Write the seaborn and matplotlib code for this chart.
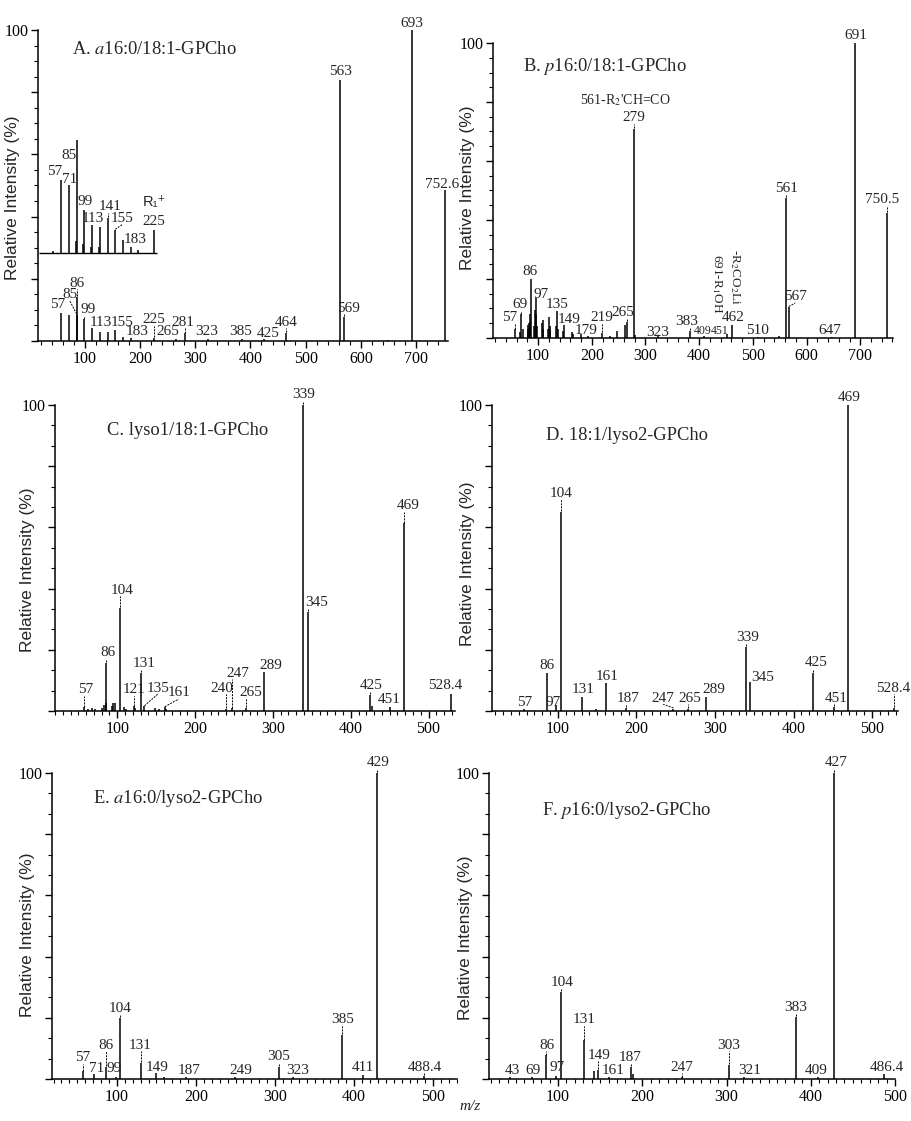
import numpy as np
import matplotlib
matplotlib.use("Agg")
import matplotlib.pyplot as plt
import seaborn as sns
from matplotlib.ticker import MultipleLocator, FixedLocator

sns.set_theme(style="ticks")
plt.rcParams['font.family'] = ['Liberation Serif', 'DejaVu Serif']
plt.rcParams['mathtext.fontset'] = 'stix'

# ---- spectra (m/z, relative intensity %) ----
a_mz = [57, 71, 85, 86, 99, 113, 127, 141, 155, 169, 183, 225, 265, 281, 323, 385, 425, 464,
        563, 569, 650, 693, 752.6]
a_int = [9.1, 8.4, 8.5, 14.3, 7.0, 4.2, 3.0, 3.0, 3.5, 1.4, 1.0, 1.0, 0.8, 2.5, 0.5, 0.5, 0.8, 2.6,
         84, 7.7, 0.4, 100, 48.5]
# expanded low-mass region drawn as inset above the spectrum
a_inset_mz = [42, 57, 71, 83, 85, 97, 99, 111, 113, 125, 127, 141, 155, 169, 183, 197, 225]
a_inset_int = [0.5, 23.5, 21.9, 4, 36.3, 3, 13.8, 2, 9.0, 2, 8.4, 11.3, 7.4, 4.2, 1.9, 0.8, 7.4]

b_mz = [57, 67, 69, 71, 81, 82, 83, 84, 85, 86, 93, 95, 96, 97, 98, 107, 109, 110, 119, 121, 122,
        123, 133, 135, 137, 147, 149, 163, 165, 179, 193, 219, 233, 247, 261, 265, 279, 281, 323,
        383, 409, 451, 462, 510, 549, 561, 567, 647, 691, 750.5]
b_int = [3, 2, 8, 3, 3, 4.5, 5, 5.5, 8, 20, 4, 9.5, 8, 13.5, 4, 5, 6, 3, 3, 7, 4,
         3, 4, 9, 3, 2.5, 4.5, 2, 1.2, 1.2, 0.8, 1.7, 0.8, 2.5, 4.5, 5.5, 71, 1, 0.6,
         2.5, 0.8, 1.5, 4.3, 0.5, 0.7, 47.5, 10.5, 0.3, 100, 42.4]

c_mz = [57, 63, 67, 71, 81, 83, 85, 86, 93, 95, 97, 104, 109, 111, 121, 123, 131, 135, 149, 153,
        161, 163, 240, 247, 265, 289, 339, 345, 425, 427, 451, 469, 528.4]
c_int = [1.2, 0.7, 1, 0.8, 1, 2, 2.5, 15.7, 1.5, 2.5, 2.5, 33.7, 1.2, 0.8, 1.5, 1, 12.5, 1.5, 1, 0.7,
         1.2, 0.6, 0.7, 0.9, 1, 12.7, 100, 32.4, 5.2, 1.5, 1.3, 61.4, 5.5]

d_mz = [57, 86, 97, 104, 131, 149, 161, 187, 247, 265, 289, 339, 345, 425, 451, 469, 528.4]
d_int = [0.7, 12.5, 2, 65, 4.6, 0.6, 9.2, 1, 0.8, 0.8, 4.6, 21, 9.5, 12.4, 1.3, 100, 1]

e_mz = [57, 71, 86, 99, 104, 131, 149, 160, 187, 249, 305, 323, 385, 411, 429, 488.4]
e_int = [2.5, 1.5, 4, 0.8, 20, 5.2, 2, 0.8, 0.5, 0.5, 4, 0.5, 14.4, 1.2, 100, 1]

f_mz = [43, 69, 86, 97, 104, 131, 143, 147, 161, 187, 189, 247, 303, 321, 383, 409, 427, 486.4]
f_int = [0.5, 0.7, 7.8, 1, 28.4, 12.7, 2.5, 3, 0.7, 4, 1.5, 0.6, 4.6, 0.5, 20.3, 0.8, 100, 1.5]

titles = ["A. $\\mathit{a}$16:0/18:1-GPCho", "B. $\\mathit{p}$16:0/18:1-GPCho",
          "C. lyso1/18:1-GPCho", "D. 18:1/lyso2-GPCho",
          "E. $\\mathit{a}$16:0/lyso2-GPCho", "F. $\\mathit{p}$16:0/lyso2-GPCho"]

# ---- peak labels: (text, peak m/z, label x, label y) ----
a_labels = [("57", 57, 50, 11.6), ("85", 85, 73, 14.8), ("86", 86, 85.6, 18.6), ("99", 99, 106, 10.0),
            ("113", 113, 128, 6.1), ("155", 155, 167, 6.1), ("183", 183, 194, 2.9), ("225", 225, 224, 6.8),
            ("265", 265, 250, 2.9), ("281", 281, 278, 6.1), ("323", 323, 321, 2.9), ("385", 385, 383, 2.9),
            ("425", 425, 432, 2.3), ("464", 464, 465, 6.1), ("563", 563, 563, 86.5), ("569", 569, 578, 10.6),
            ("693", 693, 693, 102.0), ("752.6", 752.6, 747, 50.2)]
a_inset_labels = [("57", 57, 46, 54.4), ("71", 71, 73, 52.0), ("85", 85, 72, 59.8), ("99", 99, 100.5, 44.8),
                  ("113", 113, 114, 39.5), ("141", 141, 146, 43.2), ("155", 155, 168, 39.5),
                  ("183", 183, 191, 32.5), ("225", 225, 225.5, 38.4)]
b_labels = [("57", 57, 47, 6.8), ("69", 69, 66.7, 11.2), ("86", 86, 85, 22.7), ("97", 97, 106, 14.6),
            ("135", 135, 136, 11.2), ("149", 149, 157, 6.3), ("179", 179, 189, 2.5), ("219", 219, 218, 6.8),
            ("265", 265, 258.5, 8.5), ("279", 279, 279, 74.6), ("323", 323, 322, 2.0), ("383", 383, 377, 5.6),
            ("462", 462, 464, 6.8), ("510", 510, 508, 2.7), ("561", 561, 562, 50.8),
            ("567", 567, 579, 13.9), ("647", 647, 644, 2.7), ("691", 691, 692, 102.7), ("750.5", 750.5, 741, 46.8)]
b_small_labels = [("409", 409, 406, 2.4), ("451", 451, 438, 2.4)]
c_labels = [("339", 339, 339, 103.3), ("469", 469, 474, 67), ("345", 345, 356, 35.3), ("104", 104, 106, 39.5),
            ("86", 86, 88.5, 19), ("131", 131, 134.5, 15.4), ("57", 57, 59, 6.9), ("121", 121, 122, 6.9),
            ("135", 135, 152, 7.5), ("161", 161, 179, 5.9), ("240", 240, 234, 7.5), ("247", 247, 255, 12.4),
            ("265", 265, 271, 6.2), ("289", 289, 297, 15), ("425", 425, 426, 8.2), ("451", 451, 450, 3.6),
            ("528.4", 528.4, 521, 8.2)]
d_labels = [("469", 469, 471, 102.6), ("104", 104, 104, 71.2), ("339", 339, 341, 23.9), ("86", 86, 86, 15),
            ("131", 131, 132, 6.9), ("161", 161, 162.5, 11.4), ("187", 187, 189, 4.2), ("57", 57, 58, 2.9),
            ("97", 97, 94, 2.9), ("247", 247, 234, 4.2), ("265", 265, 268, 4.2), ("289", 289, 298, 6.9),
            ("345", 345, 360, 10.8), ("425", 425, 429, 15.7), ("451", 451, 454.6, 4.2), ("528.4", 528.4, 527, 7.5)]
e_labels = [("429", 429, 430, 103.3), ("385", 385, 385, 19.3), ("104", 104, 104, 23.2), ("86", 86, 86, 11.1),
            ("131", 131, 130, 11.1), ("57", 57, 57, 6.9), ("71", 71, 75, 3.3), ("99", 99, 96, 3.3),
            ("149", 149, 151, 3.9), ("187", 187, 191, 2.9), ("249", 249, 257, 2.9), ("305", 305, 305, 7.2),
            ("323", 323, 329, 2.9), ("411", 411, 411, 3.6), ("488.4", 488.4, 490, 3.9)]
f_labels = [("427", 427, 430, 103.3), ("104", 104, 105, 31.4), ("383", 383, 382, 23.5), ("131", 131, 131, 19.3),
            ("303", 303, 302, 11.1), ("86", 86, 87, 11.1), ("149", 147, 148.5, 7.8), ("187", 187, 186, 6.9),
            ("43", 43, 45.6, 2.9), ("69", 69, 70, 2.9), ("97", 97, 99, 3.6), ("161", 161, 165, 2.9),
            ("247", 247, 247, 3.9), ("321", 321, 327, 2.9), ("409", 409, 406.5, 2.9), ("486.4", 486.4, 490.5, 3.9)]

# ---- layout (pixel boxes: left, right, top, bottom) ----
W, H = 911, 1121
panels = [
    dict(mz=a_mz, inten=a_int, labels=a_labels, box=(38, 448, 30, 341), xlim=(15, 758), xmax=700,
         xminor=20, yminor=5, ylab=(-0.044, 0.46), title=(0.083, 0.936)),
    dict(mz=b_mz, inten=b_int, labels=b_labels, box=(493, 893, 43, 338), xlim=(16, 761), xmax=700,
         xminor=20, yminor=5, ylab=(-0.045, 0.51), title=(0.075, 0.919)),
    dict(mz=c_mz, inten=c_int, labels=c_labels, box=(55, 455, 405, 711), xlim=(20, 534), xmax=500,
         xminor=10, yminor=20 / 3, ylab=(-0.05, 0.46), title=(0.13, 0.918)),
    dict(mz=d_mz, inten=d_int, labels=d_labels, box=(492, 898, 405, 711), xlim=(16, 533), xmax=500,
         xminor=10, yminor=20 / 3, ylab=(-0.042, 0.48), title=(0.133, 0.899)),
    dict(mz=e_mz, inten=e_int, labels=e_labels, box=(52, 457, 773, 1079), xlim=(18, 530), xmax=500,
         xminor=10, yminor=20 / 3, ylab=(-0.042, 0.47), title=(0.101, 0.918)),
    dict(mz=f_mz, inten=f_int, labels=f_labels, box=(489, 895, 773, 1079), xlim=(18, 500), xmax=500,
         xminor=10, yminor=20 / 3, ylab=(-0.04, 0.46), title=(0.13, 0.879)),
]
inset_base = 28.3
inset_span = (17, 230)

LAB = 11
fig = plt.figure(figsize=(W / 100, H / 100), dpi=100)


def put_labels(ax, labels, mz, inten, base=0.0, size=LAB):
    hmap = dict(zip(mz, inten))
    for txt, pk, lx, ly in labels:
        ax.text(lx, ly, txt, ha='center', va='center', fontsize=size, clip_on=False)
        top = base + hmap.get(pk, 0)
        low = ly - 2.0
        if low - top > 0.8:
            # short vertical leader when the label sits over its peak, slanted otherwise
            x_end = pk if abs(lx - pk) < 12 else lx
            ax.plot([pk, x_end], [top + 0.2, low], color='black', lw=0.7, ls=(0, (2, 1.2)),
                    clip_on=False)


for i, p in enumerate(panels):
    l, r, t, b = p['box']
    ax = fig.add_axes([l / W, 1 - b / H, (r - l) / W, (b - t) / H])
    ax.set_facecolor('white')
    ax.vlines(p['mz'], 0, p['inten'], color='black', lw=1.1, clip_on=False)
    ax.set_xlim(*p['xlim'])
    ax.set_ylim(0, 100)
    sns.despine(ax=ax)
    for s in ['left', 'bottom']:
        ax.spines[s].set_linewidth(1.1)
        ax.spines[s].set_color('black')
    ax.xaxis.set_major_locator(FixedLocator(np.arange(100, p['xmax'] + 1, 100)))
    ax.xaxis.set_minor_locator(MultipleLocator(p['xminor']))
    ax.set_yticks(np.arange(0, 101, 20))
    ax.set_yticklabels([''] * 5 + ['100'])
    ax.yaxis.set_minor_locator(MultipleLocator(p['yminor']))
    ax.tick_params(axis='both', which='major', direction='out', length=5, width=1,
                   labelsize=11.5, colors='black', pad=2)
    ax.tick_params(axis='both', which='minor', direction='out', length=3, width=0.8, colors='black')
    ax.set_ylabel('Relative Intensity (%)', fontsize=12.5, family=['Liberation Sans', 'DejaVu Sans'])
    ax.yaxis.set_label_coords(*p['ylab'])
    ax.text(p['title'][0], p['title'][1], titles[i], transform=ax.transAxes,
            ha='left', va='center', fontsize=13.3)
    put_labels(ax, p['labels'], p['mz'], p['inten'])

    if i == 0:
        ax.hlines(inset_base, *inset_span, color='black', lw=1.0)
        ax.vlines(a_inset_mz, inset_base, np.array(a_inset_int) + inset_base, color='black', lw=1.1)
        put_labels(ax, a_inset_labels, a_inset_mz, a_inset_int, base=inset_base)
        ax.text(225, 44.8, 'R\u2081\u207a', ha='center', va='center', fontsize=10.5,
                family=['Liberation Sans', 'DejaVu Sans'])
    if i == 1:
        put_labels(ax, b_small_labels, p['mz'], p['inten'], size=8.5)
        ax.text(262, 80.7, "561-R$_2$'CH=CO", ha='center', va='center', fontsize=10)
        ax.text(433, 18.5, "691-R$_1$OH", ha='center', va='center', fontsize=9.5, rotation=-90)
        ax.text(467, 20.5, "-R$_2$CO$_2$Li", ha='center', va='center', fontsize=9.5, rotation=-90)

fig.text(470 / W, 1 - 1107 / H, 'm/z', ha='center', va='center', fontsize=11, style='italic')

fig.savefig('out.png', dpi=100, facecolor='white')
